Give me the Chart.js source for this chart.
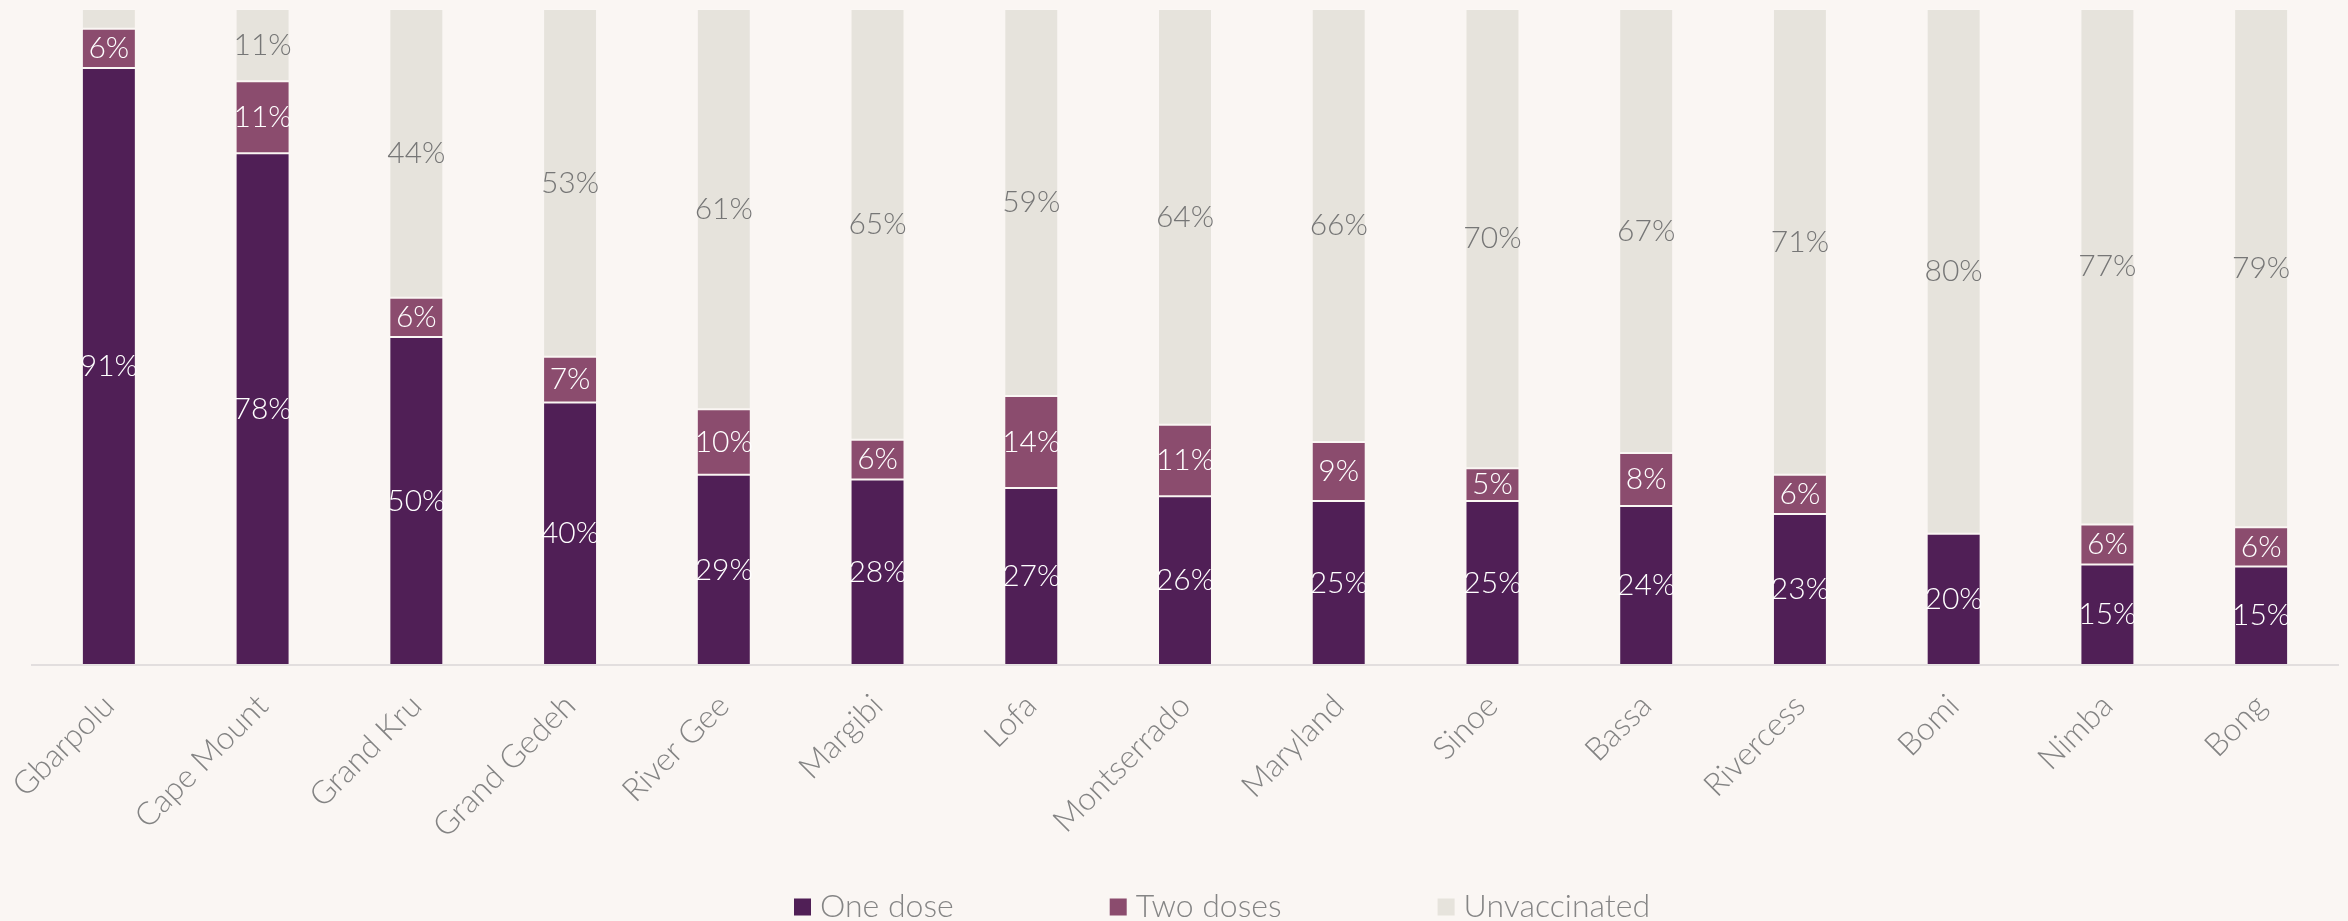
<!DOCTYPE html>
<html>
<head>
<meta charset="utf-8">
<title>Vaccination coverage by county</title>
<script src="https://cdn.jsdelivr.net/npm/chart.js@4/dist/chart.umd.min.js"></script>
<style>
  html, body { margin: 0; padding: 0; background: #faf6f3; }
  #wrap { width: 2348px; height: 921px; }
</style>
</head>
<body>
<div id="wrap"><canvas id="chart" width="2348" height="921"></canvas></div>
<script>
// Counties, in descending order of one-dose coverage
const counties = ['Gbarpolu', 'Cape Mount', 'Grand Kru', 'Grand Gedeh', 'River Gee', 'Margibi', 'Lofa',
  'Montserrado', 'Maryland', 'Sinoe', 'Bassa', 'Rivercess', 'Bomi', 'Nimba', 'Bong'];

// Share of population (%) in each group
const oneDose      = [91, 78, 50, 40, 29, 28, 27, 26, 25, 25, 24, 23, 20, 15, 15];
const twoDoses     = [6, 11, 6, 7, 10, 6, 14, 11, 9, 5, 8, 6, 0, 6, 6];
const unvaccinated = [3, 11, 44, 53, 61, 65, 59, 64, 66, 70, 67, 71, 80, 77, 79];

const seriesNames = ['One dose', 'Two doses', 'Unvaccinated'];
const seriesColors = ['#501f56', '#8b4c6e', '#e6e3dc'];
const labelColors = ['#ffffff', '#ffffff', '#767676'];

const FONT = 'Lato, "Open Sans", sans-serif';
const rawSeries = [oneDose, twoDoses, unvaccinated];

// 100% stacked: each column is scaled to its own total
const totals = counties.map((_, i) => rawSeries.reduce((s, arr) => s + arr[i], 0));
const share = arr => arr.map((v, i) => v / totals[i] * 100);

// Percentage labels centred in each segment
const segmentLabels = {
  id: 'segmentLabels',
  afterDatasetsDraw(chart) {
    const ctx = chart.ctx;
    ctx.save();
    ctx.font = '300 30px ' + FONT;
    ctx.textAlign = 'center';
    ctx.textBaseline = 'middle';
    chart.data.datasets.forEach((ds, di) => {
      const meta = chart.getDatasetMeta(di);
      ctx.fillStyle = labelColors[di];
      meta.data.forEach((bar, i) => {
        const v = ds.raw[i];
        if (v <= 3) return;
        ctx.fillText(v + '%', bar.x, (bar.y + bar.base) / 2);
      });
    });
    ctx.restore();
  }
};

// Legend row under the category labels
const bottomLegend = {
  id: 'bottomLegend',
  afterDraw(chart) {
    const ctx = chart.ctx;
    const box = 17, gap = 9, spacing = 156;
    const baseY = 907;
    ctx.save();
    ctx.font = '300 32px ' + FONT;
    ctx.textBaseline = 'middle';
    ctx.textAlign = 'left';
    let x = 794;
    seriesNames.forEach((name, i) => {
      ctx.fillStyle = seriesColors[i];
      ctx.fillRect(x, baseY - box / 2, box, box);
      ctx.fillStyle = '#858585';
      ctx.fillText(name, x + box + gap, baseY);
      x += box + gap + ctx.measureText(name).width + spacing;
    });
    ctx.restore();
  }
};

const background = {
  id: 'background',
  beforeDraw(chart) {
    const ctx = chart.ctx;
    ctx.save();
    ctx.fillStyle = '#faf6f3';
    ctx.fillRect(0, 0, chart.width, chart.height);
    ctx.restore();
  }
};

function build() {
  new Chart(document.getElementById('chart'), {
    type: 'bar',
    data: {
      labels: counties,
      datasets: rawSeries.map((arr, i) => ({
        label: seriesNames[i],
        data: share(arr),
        raw: arr,
        backgroundColor: seriesColors[i],
        borderColor: 'rgba(255,255,255,0.1)',
        borderWidth: 1,
        borderSkipped: false,
        categoryPercentage: 1,
        barPercentage: 0.351
      }))
    },
    options: {
      responsive: false,
      animation: false,
      devicePixelRatio: 1,
      layout: { padding: { top: 9, left: 32, right: 10, bottom: 0 } },
      plugins: {
        legend: { display: false },
        tooltip: { enabled: false }
      },
      scales: {
        x: {
          stacked: true,
          offset: true,
          grid: { display: false, drawTicks: false },
          border: { display: true, color: '#e2dede', width: 2 },
          ticks: {
            color: '#838383',
            font: { family: FONT, size: 32, weight: 300 },
            minRotation: 45,
            maxRotation: 45,
            padding: 22,
            autoSkip: false
          },
          afterFit(scale) {
            scale.height = 256;
            scale.paddingLeft = 0;
            scale.paddingRight = 0;
          }
        },
        y: {
          stacked: true,
          display: false,
          min: 0,
          max: 100
        }
      }
    },
    plugins: [background, segmentLabels, bottomLegend]
  });
}

if (document.fonts && document.fonts.load) {
  Promise.all([
    document.fonts.load('300 30px Lato'),
    document.fonts.load('400 30px Lato')
  ]).then(build, build);
} else {
  build();
}
</script>
</body>
</html>
